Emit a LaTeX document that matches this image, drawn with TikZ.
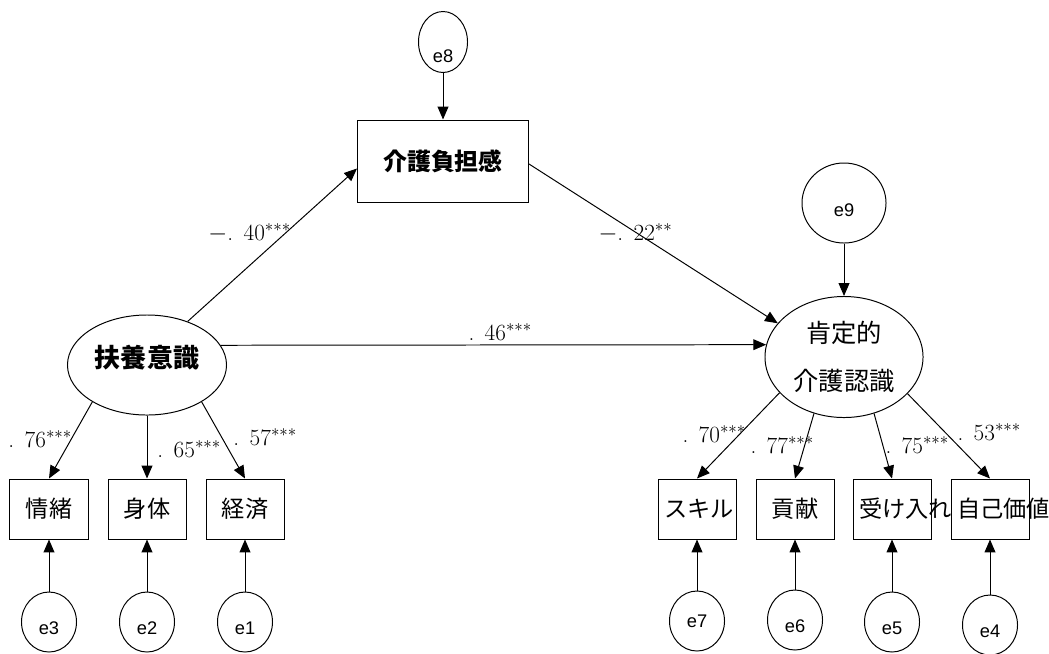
\documentclass[tikz,border=0pt]{standalone}
\usepackage{fontspec}
\usetikzlibrary{arrows.meta,shapes.geometric}
\newfontfamily\jpfont{Noto Sans CJK JP}
\newfontfamily\efont{Liberation Sans}
\newcommand{\cf}[2]{.\hspace{.45em}#1$^{#2}$}

\begin{document}
\begin{tikzpicture}[x=0.025cm,y=-0.025cm,line width=0.7pt,
  obs/.style={draw,rectangle,inner xsep=0.15cm,inner ysep=0pt,text width=1.65cm,minimum height=1.5cm,align=center,font=\jpfont\fontsize{16.5}{18}\selectfont},
  lat/.style={draw,ellipse,inner sep=0pt,align=center},
  err/.style={draw,ellipse,inner sep=0pt,minimum width=1.375cm,minimum height=1.5cm,text height=18pt,text depth=0pt,font=\efont\fontsize{13}{15}\selectfont},
  coef/.style={anchor=base west,inner sep=0pt,font=\fontsize{16.5}{18}\selectfont},
  arr/.style={-{Triangle[length=3.2mm,width=2.7mm]}}]
\path[use as bounding box,fill=white] (0,0) rectangle (1049,653);
% latent and mediating variables
\node[lat,minimum width=3.975cm,minimum height=2.5cm,text height=16pt,text depth=13pt,font=\jpfont\bfseries\fontsize{18.5}{20}\selectfont] (fy) at (147,365){扶養意識};
\node[draw,rectangle,inner xsep=0.15cm,text width=3.975cm,minimum height=2.05cm,align=center,font=\jpfont\bfseries\fontsize{17}{20}\selectfont] (kf) at (443,161){介護負担感};
\node[lat,minimum width=3.95cm,minimum height=3.025cm,font=\jpfont\fontsize{18}{34}\selectfont] (kn) at (844,357){肯定的\\介護認識};
\node[err,minimum width=1.225cm,minimum height=1.525cm,text height=29pt] (e8) at (443,42){e8};
\node[err,minimum width=2.1cm,minimum height=2cm,text height=19pt] (e9) at (844,203){e9};
% indicators
\node[obs] (jo) at (49,509){情緒};
\node[obs] (sh) at (147,509){身体};
\node[obs] (kz) at (245,509){経済};
\node[obs] (sk) at (697,509){スキル};
\node[obs] (kk) at (795,509){貢献};
\node[obs] (ui) at (892,509){受け入れ};
\node[obs] (jk) at (990,509){自己価値};
\node[err] (e3) at (49,622){e3};
\node[err] (e2) at (147,622){e2};
\node[err] (e1) at (245,622){e1};
\node[err,text height=9.3pt] (e7) at (697,621){e7};
\node[err] (e6) at (795,620){e6};
\node[err] (e5) at (892,622){e5};
\node[err] (e4) at (990,625){e4};
% paths
\draw[arr] (e8)--(kf);
\draw[arr] (e9)--(kn);
\draw[arr] (fy.47)--(kf.185);
\draw[arr] (kf.358)--(kn.153);
\draw[arr] (fy.15)--(kn.171);
\draw[arr] (fy.214)--(jo.north);
\draw[arr] (fy)--(sh);
\draw[arr] (fy.326)--(kz.north);
\draw[arr] (kn.209)--(sk.north);
\draw[arr] (kn.242)--(kk.north);
\draw[arr] (kn.298)--(ui.north);
\draw[arr] (kn.330)--(jk.north);
\foreach \e/\v in {e3/jo,e2/sh,e1/kz,e7/sk,e6/kk,e5/ui,e4/jk}
  \draw[arr] (\e)--(\v);
% coefficients
\node[coef] (c40) at (208,240){$-$\cf{40}{***}};
\node[coef] (c22) at (598,240){$-$\cf{22}{**}};
\node[coef] (c46) at (468,340){\cf{46}{***}};
\node[coef] (c76) at (8,447){\cf{76}{***}};
\node[coef] (c65) at (157,457){\cf{65}{***}};
\node[coef] (c57) at (233,445){\cf{57}{***}};
\node[coef] (c70) at (682,442){\cf{70}{***}};
\node[coef] (c77) at (750,453){\cf{77}{***}};
\node[coef] (c75) at (885,453){\cf{75}{***}};
\node[coef] (c53) at (957,440){\cf{53}{***}};
\end{tikzpicture}
\end{document}
